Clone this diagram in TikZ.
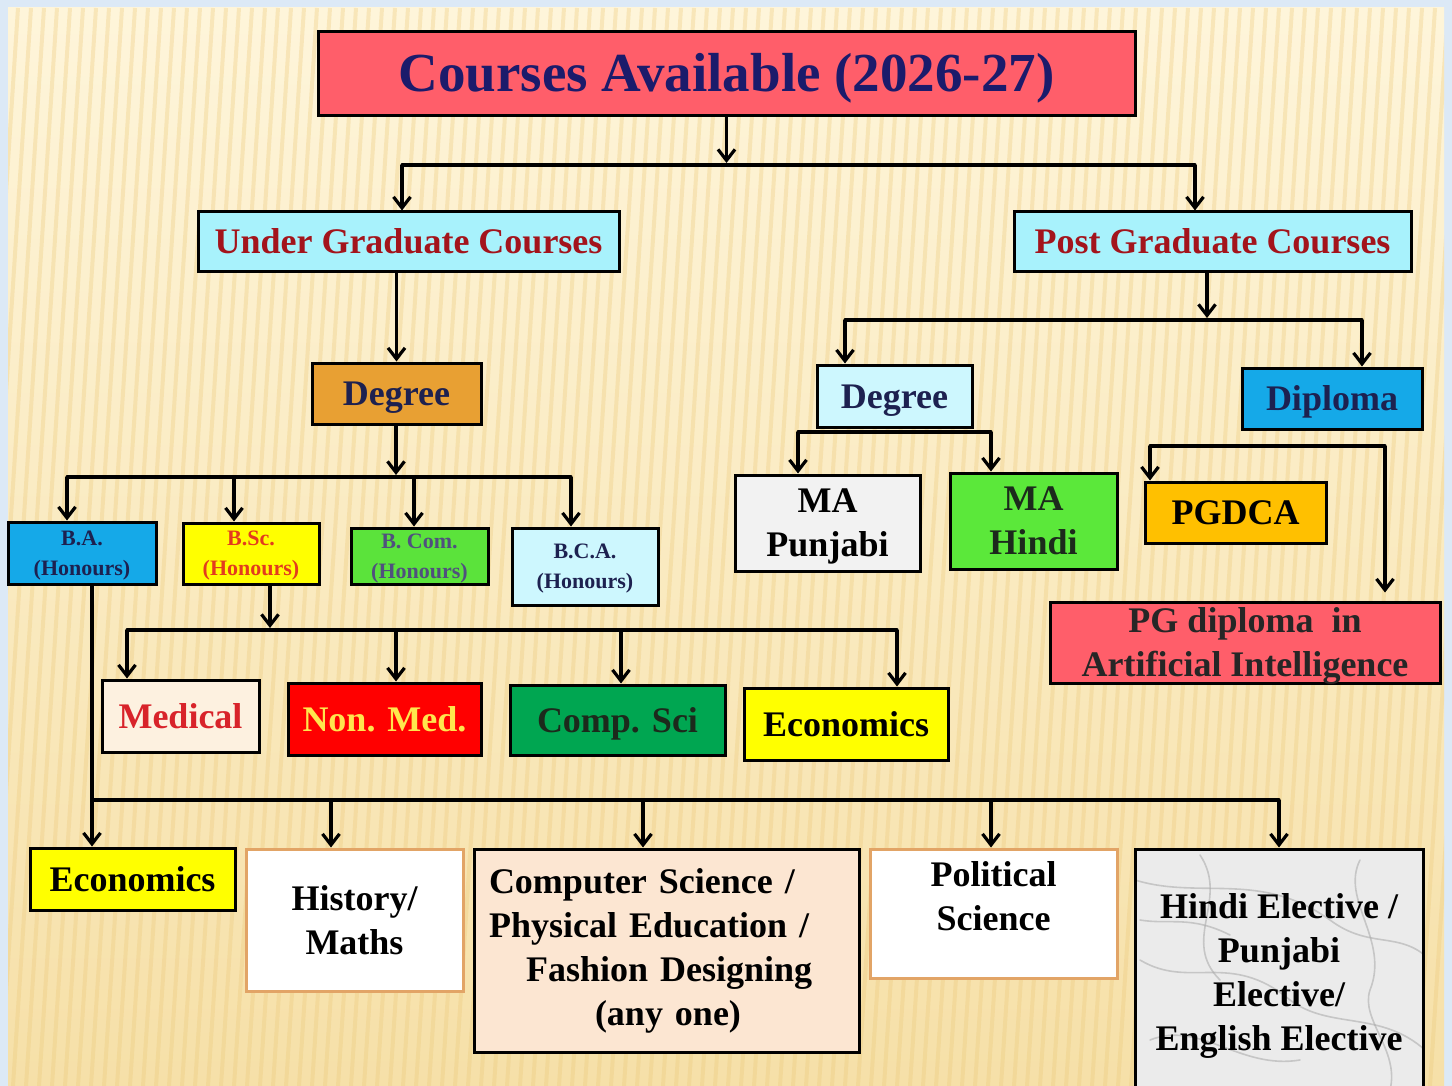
\documentclass[tikz,border=0pt]{standalone}
\usepackage{fontspec}
\setmainfont{Liberation Serif}
\usetikzlibrary{arrows.meta}
\definecolor{framebg}{HTML}{DCE9F6}
\definecolor{bgtop}{HTML}{FEF5DA}
\definecolor{bgbot}{HTML}{F6E0A8}
\definecolor{stripec}{HTML}{EDCB7E}
\definecolor{titlefill}{HTML}{FF5E6A}
\definecolor{titletext}{HTML}{1B1B6B}
\definecolor{ugfill}{HTML}{A8F2FC}
\definecolor{ugtext}{HTML}{A3141C}
\definecolor{udegfill}{HTML}{E8A033}
\definecolor{navy}{HTML}{1D2150}
\definecolor{bafill}{HTML}{15A9E8}
\definecolor{bscfill}{HTML}{FFFF00}
\definecolor{bsctext}{HTML}{E33B1E}
\definecolor{bcomfill}{HTML}{5BE33B}
\definecolor{bcomtext}{HTML}{50507E}
\definecolor{bcafill}{HTML}{CDF7FE}
\definecolor{medfill}{HTML}{FDF1E0}
\definecolor{medtext}{HTML}{D8232A}
\definecolor{nonmedfill}{HTML}{FF0000}
\definecolor{nonmedtext}{HTML}{FFE64D}
\definecolor{csfill}{HTML}{00A651}
\definecolor{cstext}{HTML}{1C2A1C}
\definecolor{mapfill}{HTML}{F2F2F2}
\definecolor{mahfill}{HTML}{5BE83A}
\definecolor{pgdcafill}{HTML}{FFC000}
\definecolor{peach}{HTML}{FCE6D2}
\definecolor{tanborder}{HTML}{E2A466}
\definecolor{marble}{HTML}{EBEBEB}
\definecolor{vein}{HTML}{A8A8A8}
\tikzset{
  box/.style={draw=black, line width=3pt, inner sep=0pt, align=center, text depth=0pt,
    font=\fontsize{36}{44}\selectfont\bfseries},
  one/.style={text height=24pt},
  smallbox/.style={box, font=\fontsize{22}{30}\selectfont\bfseries},
  tanbox/.style={box, draw=tanborder, fill=white},
  ln/.style={line width=3.2pt, line cap=round},
  arr/.style={line width=3.2pt, -{Straight Barb[length=11pt,width=17pt]}},
  stripe/.style={line width=4pt, stripec, opacity=0.35},
  veinline/.style={vein, line width=1.6pt, opacity=0.55, line cap=round}
}
\begin{document}
\begin{tikzpicture}[x=1pt,y=-1pt]
\useasboundingbox (0,0) rectangle (1452,1086);
% background
\fill[framebg] (0,0) rectangle (1452,1086);
\shade[top color=bgtop, bottom color=bgbot] (8,8) rectangle (1444,1086);
\begin{scope}
\clip (8,8) rectangle (1444,1086);
\foreach \i in {-6,...,110} \draw[stripe] (\i*13,1086) -- (\i*13+70,8);
\end{scope}

% marble texture under the elective box
\begin{scope}
\clip (1135,849) rectangle (1423,1095);
\fill[marble] (1135,849) rectangle (1423,1095);
\draw[veinline] (1135,880) .. controls (1200,900) and (1260,870) .. (1330,920) .. controls (1370,950) and (1400,930) .. (1430,960);
\draw[veinline] (1140,960) .. controls (1190,990) and (1230,950) .. (1290,1000) .. controls (1330,1030) and (1380,1010) .. (1425,1050);
\draw[veinline] (1150,1040) .. controls (1200,1020) and (1240,1070) .. (1300,1060);
\draw[veinline] (1200,855) .. controls (1230,900) and (1180,940) .. (1220,980);
\draw[veinline] (1360,860) .. controls (1340,900) and (1390,940) .. (1370,990) .. controls (1360,1020) and (1400,1050) .. (1390,1090);
\draw[veinline] (1140,920) .. controls (1170,925) and (1190,915) .. (1230,935);
\end{scope}

% title
\node[box, one, text height=36pt, fill=titlefill, text=titletext, minimum width=817pt, minimum height=84pt,
  font=\fontsize{55}{60}\selectfont\bfseries] (title) at (726.5,74) {Courses Available (2026-27)};

% level 1
\node[box, one, fill=ugfill, text=ugtext, minimum width=421pt, minimum height=60pt] (ug) at (408.5,242) {Under Graduate Courses};
\node[box, one, fill=ugfill, text=ugtext, minimum width=397pt, minimum height=60pt] (pg) at (1212.5,242) {Post Graduate Courses};

% UG degree
\node[box, one, fill=udegfill, text=navy, minimum width=169pt, minimum height=61pt] (udeg) at (396.5,393.5) {Degree};

% UG programmes
\node[smallbox, fill=bafill, text=navy, minimum width=148pt, minimum height=62pt] (ba) at (82,553) {B.A.\\(Honours)};
\node[smallbox, fill=bscfill, text=bsctext, minimum width=136pt, minimum height=61pt] (bsc) at (251,553.5) {B.Sc.\\(Honours)};
\node[smallbox, fill=bcomfill, text=bcomtext, minimum width=137pt, minimum height=56pt] (bcom) at (419.5,556) {B. Com.\\(Honours)};
\node[smallbox, fill=bcafill, text=navy, minimum width=146pt, minimum height=77pt] (bca) at (585,566.5) {B.C.A.\\(Honours)};

% B.Sc. streams
\node[box, one, fill=medfill, text=medtext, minimum width=157pt, minimum height=72pt] (med) at (180.5,716) {Medical};
\node[box, one, fill=nonmedfill, text=nonmedtext, minimum width=193pt, minimum height=72pt] (nonmed) at (384.5,719) {Non. Med.};
\node[box, one, fill=csfill, text=cstext, minimum width=215pt, minimum height=70pt] (comp) at (617.5,720) {Comp. Sci};
\node[box, one, fill=bscfill, text=black, minimum width=204pt, minimum height=72pt] (econ1) at (846,724) {Economics};

% B.A. subjects
\node[box, one, fill=bscfill, text=black, minimum width=205pt, minimum height=62pt] (econ2) at (132.5,879) {Economics};
\node[tanbox, minimum width=217pt, minimum height=142pt] (hist) at (354.5,920) {History/\\Maths};
\node[box, text depth={}, fill=peach, text=black, minimum width=385pt, minimum height=203pt, align=left, text width=355pt, inner xsep=15pt] (csbox) at (666.5,950.5)
  {Computer Science /\\Physical Education /\\\hspace*{37pt}Fashion Designing\\\hspace*{106pt}(any one)};
\node[tanbox, minimum width=247pt, minimum height=129pt] (pol) at (993.5,913.5) {};
\node[font=\fontsize{36}{44}\selectfont\bfseries, align=center, inner sep=0pt, text depth=0pt] (poltxt) at (993.5,896) {Political\\Science};
\node[box, fill=none, text=black, minimum width=288pt, minimum height=246pt] (hindi) at (1279,972) {Hindi Elective /\\Punjabi\\Elective/\\English Elective};

% PG branch
\node[box, one, fill=bcafill, text=navy, minimum width=155pt, minimum height=62pt] (pdeg) at (894.5,396) {Degree};
\node[box, one, fill=bafill, text=navy, minimum width=180pt, minimum height=61pt] (dipl) at (1332,398.5) {Diploma};
\node[box, fill=mapfill, text=black, minimum width=185pt, minimum height=96pt] (map) at (827.5,523) {MA\\Punjabi};
\node[box, fill=mahfill, text=cstext, minimum width=167pt, minimum height=96pt] (mah) at (1033.5,521) {MA\\Hindi};
\node[box, one, fill=pgdcafill, text=black, minimum width=181pt, minimum height=61pt] (pgdca) at (1235.5,512.5) {PGDCA};
\node[box, fill=titlefill, text=black!85, minimum width=390pt, minimum height=81pt] (ai) at (1245,642.5) {PG diploma\ \ in\\Artificial Intelligence};

% ---- connectors ----
\coordinate (t1) at (402,165); \coordinate (t2) at (1195,165);
\draw[arr] (title.south) -- ([yshift=2pt]title.south |- t1);
\draw[ln] (t1) -- (t2);
\draw[arr] (t1) -- (t1 |- ug.north);
\draw[arr] (t2) -- (t2 |- pg.north);

\draw[arr] (ug.south -| udeg.north) -- (udeg.north);

\coordinate (u0) at (396,477);
\coordinate (u1) at (67,477); \coordinate (u2) at (234,477);
\coordinate (u3) at (414,477); \coordinate (u4) at (571,477);
\draw[arr] (udeg.south -| u0) -- ([yshift=2pt]u0);
\draw[ln] (u1) -- (u4);
\draw[arr] (u1) -- (u1 |- ba.north);
\draw[arr] (u2) -- (u2 |- bsc.north);
\draw[arr] (u3) -- (u3 |- bcom.north);
\draw[arr] (u4) -- (u4 |- bca.north);

\coordinate (s0) at (270,630);
\coordinate (s1) at (127,630); \coordinate (s2) at (396,630);
\coordinate (s3) at (621,630); \coordinate (s4) at (897,630);
\draw[arr] (s0 |- bsc.south) -- ([yshift=2pt]s0);
\draw[ln] (s1) -- (s4);
\draw[arr] (s1) -- (s1 |- med.north);
\draw[arr] (s2) -- (s2 |- nonmed.north);
\draw[arr] (s3) -- (s3 |- comp.north);
\draw[arr] (s4) -- (s4 |- econ1.north);

\coordinate (a1) at (92,800); \coordinate (a2) at (331,800);
\coordinate (a3) at (643,800); \coordinate (a4) at (991,800);
\coordinate (a5) at (1279,800);
\draw[ln] (a1 |- ba.south) -- (a1);
\draw[ln] (a1) -- (a5);
\draw[arr] (a1) -- (a1 |- econ2.north);
\draw[arr] (a2) -- (a2 |- hist.north);
\draw[arr] (a3) -- (a3 |- csbox.north);
\draw[arr] (a4) -- (a4 |- pol.north);
\draw[arr] (a5) -- (a5 |- hindi.north);

\coordinate (p0) at (1207,320);
\coordinate (p1) at (845,320); \coordinate (p2) at (1362,320);
\draw[arr] (p0 |- pg.south) -- ([yshift=2pt]p0);
\draw[ln] (p1) -- (p2);
\draw[arr] (p1) -- (p1 |- pdeg.north);
\draw[arr] (p2) -- (p2 |- dipl.north);

\coordinate (d1) at (798,432); \coordinate (d2) at (991,432);
\draw[ln] (d1) -- (d2);
\draw[arr] (d1) -- (d1 |- map.north);
\draw[arr] (d2) -- (d2 |- mah.north);

\coordinate (e1) at (1150,446); \coordinate (e2) at (1385,446);
\draw[ln] (e1) -- (e2);
\draw[arr] (e1) -- (e1 |- pgdca.north);
\draw[arr] (e2) -- ([yshift=8pt]e2 |- ai.north);
\end{tikzpicture}
\end{document}
